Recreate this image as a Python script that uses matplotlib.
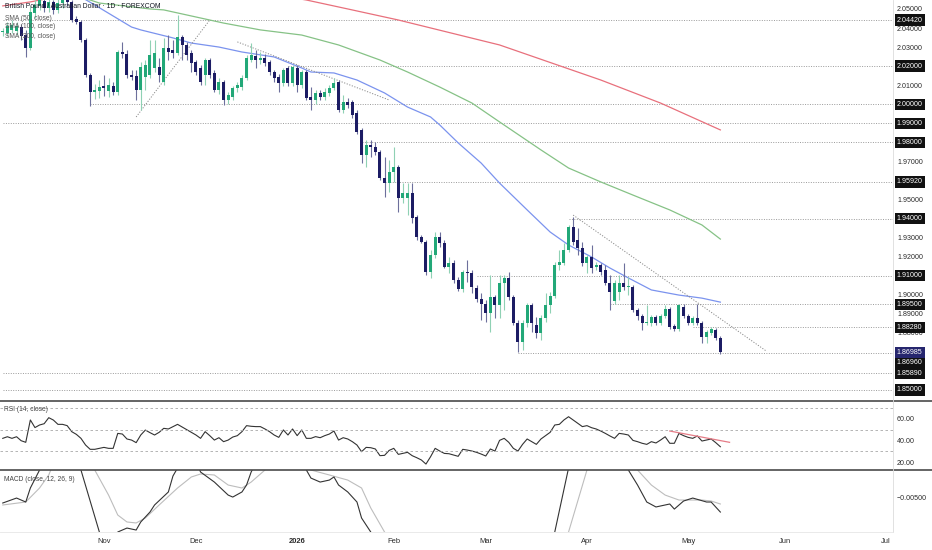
import numpy as np
import pandas as pd
import matplotlib
matplotlib.use("Agg")
import matplotlib.pyplot as plt
from matplotlib.lines import Line2D
from matplotlib import transforms

plt.rcParams['font.family'] = ['Liberation Sans', 'DejaVu Sans']

# ---- GBP/AUD daily candles ----
opens = [2.0379, 2.0374, 2.0390, 2.0384, 2.0405, 2.0363, 2.0295, 2.0479, 2.0516, 2.0542,
         2.0505, 2.0537, 2.0495, 2.0531, 2.0558, 2.0537, 2.0447, 2.0432, 2.0337, 2.0153,
         2.0064, 2.0069, 2.0096, 2.0069, 2.0096, 2.0064, 2.0274, 2.0264, 2.0153, 2.0148,
         2.0075, 2.0143, 2.0153, 2.0190, 2.0195, 2.0117, 2.0295, 2.0285, 2.0269, 2.0353,
         2.0311, 2.0269, 2.0222, 2.0190, 2.0153, 2.0232, 2.0164, 2.0075, 2.0117, 2.0022,
         2.0038, 2.0085, 2.0090, 2.0138, 2.0232, 2.0253, 2.0232, 2.0243, 2.0222, 2.0169,
         2.0143, 2.0111, 2.0190, 2.0111, 2.0190, 2.0101, 2.0169, 2.0038, 2.0022, 2.0059,
         2.0038, 2.0059, 2.0085, 2.0117, 1.9970, 2.0012, 2.0012, 1.9954, 1.9865, 1.9733,
         1.9786, 1.9775, 1.9749, 1.9613, 1.9586, 1.9644, 1.9670, 1.9508, 1.9508, 1.9534,
         1.9408, 1.9303, 1.9277, 1.9119, 1.9208, 1.9303, 1.9271, 1.9145, 1.9166, 1.9077,
         1.9030, 1.9119, 1.9114, 1.9035, 1.8977, 1.8951, 1.8904, 1.8988, 1.8946, 1.9061,
         1.9088, 1.8988, 1.8852, 1.8752, 1.8852, 1.8946, 1.8841, 1.8799, 1.8878, 1.8946,
         1.8993, 1.9156, 1.9166, 1.9235, 1.9355, 1.9287, 1.9245, 1.9166, 1.9198, 1.9145,
         1.9156, 1.9130, 1.9061, 1.8967, 1.9014, 1.9061, 1.9040, 1.9040, 1.8920, 1.8888,
         1.8852, 1.8852, 1.8883, 1.8852, 1.8888, 1.8925, 1.8836, 1.8820, 1.8935, 1.8888,
         1.8852, 1.8878, 1.8852, 1.8778, 1.8799, 1.8815, 1.8773]
highs = [2.0400, 2.0432, 2.0442, 2.0432, 2.0421, 2.0390, 2.0516, 2.0547, 2.0568, 2.0563,
         2.0558, 2.0547, 2.0552, 2.0579, 2.0573, 2.0547, 2.0463, 2.0442, 2.0348, 2.0164,
         2.0106, 2.0127, 2.0153, 2.0138, 2.0117, 2.0285, 2.0327, 2.0285, 2.0180, 2.0180,
         2.0222, 2.0232, 2.0337, 2.0337, 2.0243, 2.0348, 2.0363, 2.0337, 2.0468, 2.0363,
         2.0327, 2.0285, 2.0232, 2.0206, 2.0243, 2.0243, 2.0180, 2.0138, 2.0127, 2.0064,
         2.0096, 2.0117, 2.0153, 2.0258, 2.0321, 2.0285, 2.0274, 2.0264, 2.0232, 2.0180,
         2.0159, 2.0190, 2.0201, 2.0206, 2.0206, 2.0180, 2.0180, 2.0090, 2.0075, 2.0075,
         2.0085, 2.0101, 2.0138, 2.0127, 2.0048, 2.0033, 2.0022, 1.9970, 1.9875, 1.9812,
         1.9812, 1.9802, 1.9760, 1.9723, 1.9707, 1.9775, 1.9681, 1.9586, 1.9586, 1.9586,
         1.9418, 1.9313, 1.9287, 1.9235, 1.9329, 1.9329, 1.9287, 1.9198, 1.9182, 1.9093,
         1.9130, 1.9182, 1.9130, 1.9051, 1.9009, 1.8972, 1.9103, 1.8998, 1.9103, 1.9103,
         1.9119, 1.8998, 1.8867, 1.8867, 1.8956, 1.8956, 1.8883, 1.8893, 1.9009, 1.9014,
         1.9172, 1.9235, 1.9271, 1.9366, 1.9408, 1.9350, 1.9277, 1.9208, 1.9261, 1.9172,
         1.9166, 1.9156, 1.9103, 1.9077, 1.9103, 1.9166, 1.9093, 1.9051, 1.8930, 1.8899,
         1.8946, 1.8893, 1.8893, 1.8899, 1.8946, 1.8935, 1.8846, 1.8951, 1.8951, 1.8899,
         1.8888, 1.8951, 1.8862, 1.8815, 1.8830, 1.8825, 1.8783]
lows = [2.0358, 2.0358, 2.0374, 2.0363, 2.0337, 2.0248, 2.0285, 2.0453, 2.0495, 2.0484,
        2.0484, 2.0474, 2.0479, 2.0505, 2.0516, 2.0432, 2.0421, 2.0327, 2.0143, 1.9991,
        2.0027, 2.0033, 2.0043, 2.0038, 2.0048, 2.0048, 2.0243, 2.0138, 2.0127, 2.0022,
        1.9970, 2.0075, 2.0138, 2.0169, 2.0117, 2.0101, 2.0232, 2.0243, 2.0258, 2.0232,
        2.0232, 2.0169, 2.0153, 2.0101, 2.0101, 2.0138, 2.0064, 2.0054, 1.9996, 2.0001,
        2.0022, 2.0064, 2.0075, 2.0127, 2.0222, 2.0190, 2.0211, 2.0201, 2.0153, 2.0117,
        2.0064, 2.0096, 2.0096, 2.0096, 2.0064, 2.0085, 2.0022, 1.9970, 2.0001, 2.0022,
        2.0022, 2.0043, 2.0075, 1.9959, 1.9954, 1.9980, 1.9928, 1.9844, 1.9691, 1.9670,
        1.9723, 1.9733, 1.9602, 1.9513, 1.9539, 1.9592, 1.9434, 1.9481, 1.9418, 1.9376,
        1.9287, 1.9271, 1.9103, 1.9088, 1.9193, 1.9250, 1.9140, 1.9114, 1.9061, 1.9019,
        1.9014, 1.9067, 1.9009, 1.8961, 1.8867, 1.8857, 1.8804, 1.8878, 1.8878, 1.8920,
        1.8972, 1.8841, 1.8699, 1.8710, 1.8830, 1.8804, 1.8773, 1.8762, 1.8857, 1.8904,
        1.8982, 1.9130, 1.9156, 1.9224, 1.9261, 1.9208, 1.9151, 1.9114, 1.9114, 1.9130,
        1.9103, 1.9051, 1.8920, 1.8951, 1.8972, 1.9025, 1.8998, 1.8909, 1.8867, 1.8815,
        1.8841, 1.8836, 1.8841, 1.8841, 1.8878, 1.8820, 1.8809, 1.8809, 1.8878, 1.8841,
        1.8841, 1.8841, 1.8747, 1.8747, 1.8788, 1.8762, 1.8689]
closes = [2.0384, 2.0411, 2.0416, 2.0411, 2.0358, 2.0295, 2.0484, 2.0521, 2.0547, 2.0505,
          2.0537, 2.0495, 2.0531, 2.0558, 2.0537, 2.0442, 2.0432, 2.0337, 2.0153, 2.0064,
          2.0075, 2.0090, 2.0085, 2.0101, 2.0064, 2.0274, 2.0264, 2.0153, 2.0143, 2.0075,
          2.0195, 2.0206, 2.0258, 2.0269, 2.0153, 2.0295, 2.0274, 2.0269, 2.0353, 2.0311,
          2.0258, 2.0216, 2.0169, 2.0117, 2.0232, 2.0153, 2.0075, 2.0117, 2.0022, 2.0048,
          2.0085, 2.0101, 2.0138, 2.0243, 2.0258, 2.0232, 2.0243, 2.0216, 2.0169, 2.0138,
          2.0111, 2.0180, 2.0111, 2.0195, 2.0101, 2.0169, 2.0033, 2.0022, 2.0059, 2.0038,
          2.0064, 2.0085, 2.0111, 1.9970, 2.0012, 1.9996, 1.9943, 1.9854, 1.9733, 1.9786,
          1.9775, 1.9749, 1.9613, 1.9586, 1.9644, 1.9670, 1.9508, 1.9534, 1.9534, 1.9402,
          1.9303, 1.9277, 1.9119, 1.9208, 1.9303, 1.9271, 1.9145, 1.9166, 1.9077, 1.9030,
          1.9119, 1.9114, 1.9040, 1.8977, 1.8951, 1.8904, 1.8988, 1.8946, 1.9061, 1.9088,
          1.8988, 1.8852, 1.8752, 1.8852, 1.8946, 1.8852, 1.8799, 1.8878, 1.8946, 1.8993,
          1.9156, 1.9172, 1.9235, 1.9355, 1.9277, 1.9245, 1.9166, 1.9198, 1.9140, 1.9156,
          1.9119, 1.9061, 1.9014, 1.9061, 1.9061, 1.9040, 1.9046, 1.8920, 1.8888, 1.8852,
          1.8857, 1.8883, 1.8852, 1.8888, 1.8925, 1.8830, 1.8820, 1.8946, 1.8888, 1.8852,
          1.8878, 1.8852, 1.8778, 1.8804, 1.8820, 1.8773, 1.86985]

# moving averages, sampled along the drawn curves (bar number, price)
sma50_bar = [17, 20, 28, 30, 37, 41, 47, 52, 59, 65, 67, 72, 77, 83, 88, 93, 95, 99, 104,
             108, 114, 119, 123, 128, 132, 136, 141, 147, 152, 156]
sma50_val = [2.0563, 2.0521, 2.0405, 2.0390, 2.0348, 2.0321, 2.0300, 2.0274, 2.0248, 2.0190,
             2.0169, 2.0164, 2.0127, 2.0059, 1.9985, 1.9933, 1.9891, 1.9797, 1.9691, 1.9586,
             1.9445, 1.9329, 1.9261, 1.9198, 1.9140, 1.9088, 1.9025, 1.8998, 1.8982, 1.8961]
sma100_bar = [14, 19, 21, 32, 35, 48, 56, 65, 73, 82, 88, 95, 102, 108, 117, 123, 130, 137,
              145, 152, 156]
sma100_val = [2.0570, 2.0547, 2.0531, 2.0500, 2.0495, 2.0426, 2.0390, 2.0363, 2.0311, 2.0232,
              2.0169, 2.0090, 2.0006, 1.9907, 1.9760, 1.9665, 1.9592, 1.9523, 1.9445, 1.9366,
              1.9292]
sma200_bar = [0, 6, 12, 20, 40, 55, 66, 75, 86, 108, 130, 143, 156]
sma200_val = [2.0516, 2.0537, 2.0565, 2.0585, 2.0600, 2.0590, 2.0547, 2.0500, 2.0442, 2.0311,
              2.0127, 2.0006, 1.9865]

# drawn trend lines (start bar, end bar), (start price, end price)
trend_bars = [(29, 45), (51, 84), (124, 166)]
trend_vals = [(1.9933, 2.0442), (2.0327, 2.0022), (1.9418, 1.8704)]

# horizontal levels and the bar where each one starts
levels = [2.0442, 2.0200, 2.0000, 1.9900, 1.9800, 1.9592, 1.9400, 1.9100, 1.8950, 1.8828,
          1.8696, 1.8589, 1.8500]
level_start = [0, 62, 19, 0, 78, 83, 123, 103, 132, 150, 112, 0, 0]
price_ticks = [2.05, 2.04, 2.03, 2.01, 1.97, 1.95, 1.93, 1.92, 1.90, 1.89, 1.88]

# RSI(14), one value per bar
rsi = [42.0, 43.5, 42.0, 43.5, 39.8, 38.3, 59.1, 52.0, 54.4, 55.6,
       61.2, 59.0, 55.0, 55.0, 53.8, 48.2, 45.7, 42.0, 35.8, 31.8,
       31.8, 32.7, 33.6, 32.7, 32.7, 46.6, 46.0, 41.4, 40.4, 38.0,
       45.1, 49.7, 47.3, 45.1, 47.6, 51.3, 50.7, 52.8, 55.0, 52.5,
       50.1, 47.6, 45.1, 42.0, 48.2, 44.5, 40.4, 42.6, 38.9, 40.4,
       43.2, 44.5, 48.2, 53.8, 53.2, 52.9, 52.9, 50.7, 48.2, 45.1,
       42.9, 49.8, 45.1, 50.7, 44.5, 49.8, 42.0, 42.0, 43.6, 42.6,
       44.5, 46.0, 48.8, 40.4, 42.6, 41.4, 38.9, 35.8, 29.6, 33.6,
       33.3, 32.1, 25.9, 26.2, 30.8, 32.7, 27.1, 28.0, 29.0, 25.9,
       24.0, 21.9, 18.1, 24.9, 32.7, 30.2, 28.0, 27.7, 26.5, 25.3,
       31.8, 31.1, 30.2, 29.0, 27.4, 25.6, 32.1, 30.2, 40.1, 42.0,
       38.3, 32.7, 30.2, 36.4, 41.4, 38.9, 36.4, 41.4, 44.5, 47.6,
       54.4, 55.0, 59.1, 62.1, 59.1, 56.0, 52.9, 53.8, 51.9, 50.7,
       48.8, 46.6, 44.2, 42.0, 46.6, 46.0, 45.1, 40.1, 38.9, 37.4,
       36.4, 38.9, 37.7, 40.4, 43.5, 37.4, 37.4, 46.6, 44.5, 42.9,
       42.0, 44.2, 39.5, 40.4, 41.4, 38.0, 34.2]
rsi_trend_bars = [145, 158]
rsi_trend_vals = [48.8, 38.3]

# MACD (12, 26, 9) - the panel only shows a thin slice, so most of it is clipped
macd_bar = [0, 3, 5, 6, 8, 12, 17, 21, 23, 25, 27, 29, 30, 32, 33, 36, 37, 38, 40, 43,
            46, 49, 50, 52, 53, 54, 60, 66, 67, 69, 71, 72, 73, 75, 77, 78, 80, 91, 104, 115,
            120, 123, 130, 136, 138, 140, 142, 145, 146, 148, 150, 153, 154, 156]
macd_val = [-0.00546, -0.00506, -0.00538, -0.00425, -0.00280, 0.00285, -0.00280, -0.00780,
            -0.01006, -0.00780, -0.00748, -0.00764, -0.00699, -0.00619, -0.00562, -0.00457,
            -0.00328, -0.00264, -0.00038, -0.00296, -0.00377, -0.00482, -0.00498, -0.00457,
            -0.00401, -0.00296, 0.00123, -0.00280, -0.00345, -0.00377, -0.00361, -0.00336,
            -0.00401, -0.00457, -0.00538, -0.00667, -0.00780, -0.01732, -0.01974, -0.01490,
            -0.00780, -0.00264, 0.00446, -0.00280, -0.00401, -0.00538, -0.00578, -0.00554,
            -0.00595, -0.00530, -0.00506, -0.00538, -0.00538, -0.00619]
signal_bar = [0, 5, 8, 10, 14, 20, 23, 25, 27, 29, 31, 34, 38, 41, 43, 46, 49, 52, 54, 57,
              62, 67, 71, 75, 78, 80, 83, 95, 108, 117, 123, 127, 133, 138, 141, 144, 147,
              152, 154, 156]
signal_val = [-0.00562, -0.00538, -0.00425, -0.00320, 0.00043, -0.00280, -0.00482, -0.00643,
              -0.00699, -0.00707, -0.00667, -0.00562, -0.00425, -0.00336, -0.00312, -0.00320,
              -0.00401, -0.00425, -0.00377, -0.00280, -0.00038, -0.00280, -0.00320, -0.00361,
              -0.00425, -0.00586, -0.00780, -0.01651, -0.01732, -0.01328, -0.00780, -0.00280,
              0.00123, -0.00280, -0.00401, -0.00482, -0.00522, -0.00522, -0.00530, -0.00554]

BULL = '#22a878'
BEAR = '#1c1c64'
BULL_WICK = '#8fd1b4'
BEAR_WICK = '#6d6f9c'
LEVEL_C = '#9a9a9a'
TXT = '#2a2a2a'
FS = 5.1

# business days, no bars on Christmas / New Year's day
days = pd.bdate_range("2025-10-02", "2026-07-10")
days = days[~days.isin(pd.to_datetime(["2025-12-25", "2026-01-01"]))]
month_pos, month_lab = [], []
for per in pd.period_range("2025-11", "2026-07", freq="M"):
    i = int(np.argmax((days.year == per.year) & (days.month == per.month)))
    month_pos.append(i)
    month_lab.append("2026" if per.month == 1 else per.strftime("%b"))

fig = plt.figure(figsize=(9.32, 5.5), dpi=100)
ax = fig.add_axes([0, 0.2709, 0.958, 0.7291])
ax_rsi = fig.add_axes([0, 0.1455, 0.958, 0.1254], sharex=ax)
ax_macd = fig.add_axes([0, 0.0327, 0.958, 0.1127], sharex=ax)
XMIN, XMAX = -0.6, 193.5

for a in (ax, ax_rsi, ax_macd):
    for s in a.spines.values():
        s.set_visible(False)
    a.yaxis.tick_right()
    a.tick_params(axis='y', length=0, pad=3, labelsize=FS, labelcolor=TXT)
    a.tick_params(axis='x', length=0)

# ---- price panel ----
o = np.array(opens)
c = np.array(closes)
h = np.maximum(np.array(highs), np.maximum(o, c))
l = np.minimum(np.array(lows), np.minimum(o, c))
idx = np.arange(len(c))
up = c >= o
body_lo = np.minimum(o, c)
body_h = np.maximum(np.abs(c - o), 0.00012)

ax.vlines(idx[up], l[up], h[up], color=BULL_WICK, lw=0.8, zorder=3)
ax.vlines(idx[~up], l[~up], h[~up], color=BEAR_WICK, lw=0.8, zorder=3)
ax.bar(idx[up], body_h[up], bottom=body_lo[up], width=0.66, color=BULL, lw=0, zorder=4)
ax.bar(idx[~up], body_h[~up], bottom=body_lo[~up], width=0.66, color=BEAR, lw=0, zorder=4)

ax.plot(sma50_bar, sma50_val, color='#7b93ee', lw=0.9, zorder=2)
ax.plot(sma100_bar, sma100_val, color='#86c286', lw=0.9, zorder=2)
ax.plot(sma200_bar, sma200_val, color='#e8707c', lw=0.9, zorder=2)

for (b0, b1), (v0, v1) in zip(trend_bars, trend_vals):
    ax.plot([b0, b1], [v0, v1], color='#8a8a8a', lw=0.7, ls=(0, (1.2, 1.6)), zorder=2)

for lv, st in zip(levels, level_start):
    ax.hlines(lv, st, XMAX + 1, color=LEVEL_C, lw=0.7, linestyles=(0, (1, 1.5)), zorder=1)

ax.set_xlim(XMIN, XMAX)
ax.set_ylim(1.8442, 2.0547)
ax.set_yticks(price_ticks)
ax.set_yticklabels([f"{v:.5f}" for v in price_ticks])
ax.tick_params(axis='x', labelbottom=False)

# level boxes on the price scale
tr = transforms.blended_transform_factory(ax.transAxes, ax.transData)
box_pos = {1.8696: 1.8643}
for lv in levels:
    ax.text(1.0045, box_pos.get(lv, lv), f"{lv:.5f}", transform=tr, fontsize=FS,
            color='white', va='center', ha='left', zorder=10,
            bbox=dict(boxstyle='square,pad=0.3', fc='#111111', ec='none'))
ax.text(1.0045, closes[-1], f"{closes[-1]:.5f}", transform=tr, fontsize=FS,
        color='white', va='center', ha='left', zorder=11,
        bbox=dict(boxstyle='square,pad=0.3', fc='#26266e', ec='none'))

fig.text(5 / 932, 1 - 7 / 550, "British Pound / Australian Dollar \u00b7 1D \u00b7 FOREXCOM",
         fontsize=4.9, color='#131722', va='center', ha='left')
for k, name in enumerate(["SMA (50, close)", "SMA (100, close)", "SMA (200, close)"]):
    fig.text(5 / 932, 1 - (18 + 9 * k) / 550, name, fontsize=4.8, color='#555555',
             va='center', ha='left')

# ---- RSI panel ----
ax_rsi.plot(np.arange(len(rsi)), rsi, color='#333333', lw=0.8)
ax_rsi.plot(rsi_trend_bars, rsi_trend_vals, color='#e57b86', lw=0.9)
for v in (70, 50, 30):
    ax_rsi.axhline(v, color='#a8a8a8', lw=0.6, ls=(0, (3, 3)))
ax_rsi.set_ylim(12.6, 76.7)
ax_rsi.set_yticks([60, 40, 20])
ax_rsi.set_yticklabels(["60.00", "40.00", "20.00"])
ax_rsi.tick_params(axis='x', labelbottom=False)
ax_rsi.text(4 / 893, 0.884, "RSI (14, close)", transform=ax_rsi.transAxes, fontsize=4.8,
            color='#444444', va='center', ha='left')

# ---- MACD panel ----
ax_macd.plot(signal_bar, signal_val, color='#bdbdbd', lw=0.8)
ax_macd.plot(macd_bar, macd_val, color='#333333', lw=0.8)
ax_macd.set_ylim(-0.0078, -0.0028)
ax_macd.set_yticks([-0.005])
ax_macd.set_yticklabels(["\u22120.00500"])
ax_macd.text(4 / 893, 0.855, "MACD (close, 12, 26, 9)", transform=ax_macd.transAxes,
             fontsize=4.8, color='#444444', va='center', ha='left')
ax_macd.set_xticks(month_pos)
ax_macd.set_xticklabels(month_lab)
ax_macd.tick_params(axis='x', labelsize=5.4, labelcolor=TXT, pad=4.5)
for t in ax_macd.get_xticklabels():
    if t.get_text() == "2026":
        t.set_fontweight('bold')
ax_macd.set_xlim(XMIN, XMAX)

# panel separators and price-scale border
fig.add_artist(Line2D([0, 1], [1 - 401 / 550] * 2, color='#4a4a4a', lw=1.2))
fig.add_artist(Line2D([0, 1], [1 - 470 / 550] * 2, color='#4a4a4a', lw=1.2))
fig.add_artist(Line2D([0.958, 0.958], [0.0327, 1], color='#dcdcdc', lw=0.6))
fig.add_artist(Line2D([0, 0.958], [0.0327, 0.0327], color='#e6e6e6', lw=0.6))

fig.savefig("out.png", dpi=100, facecolor='white')
